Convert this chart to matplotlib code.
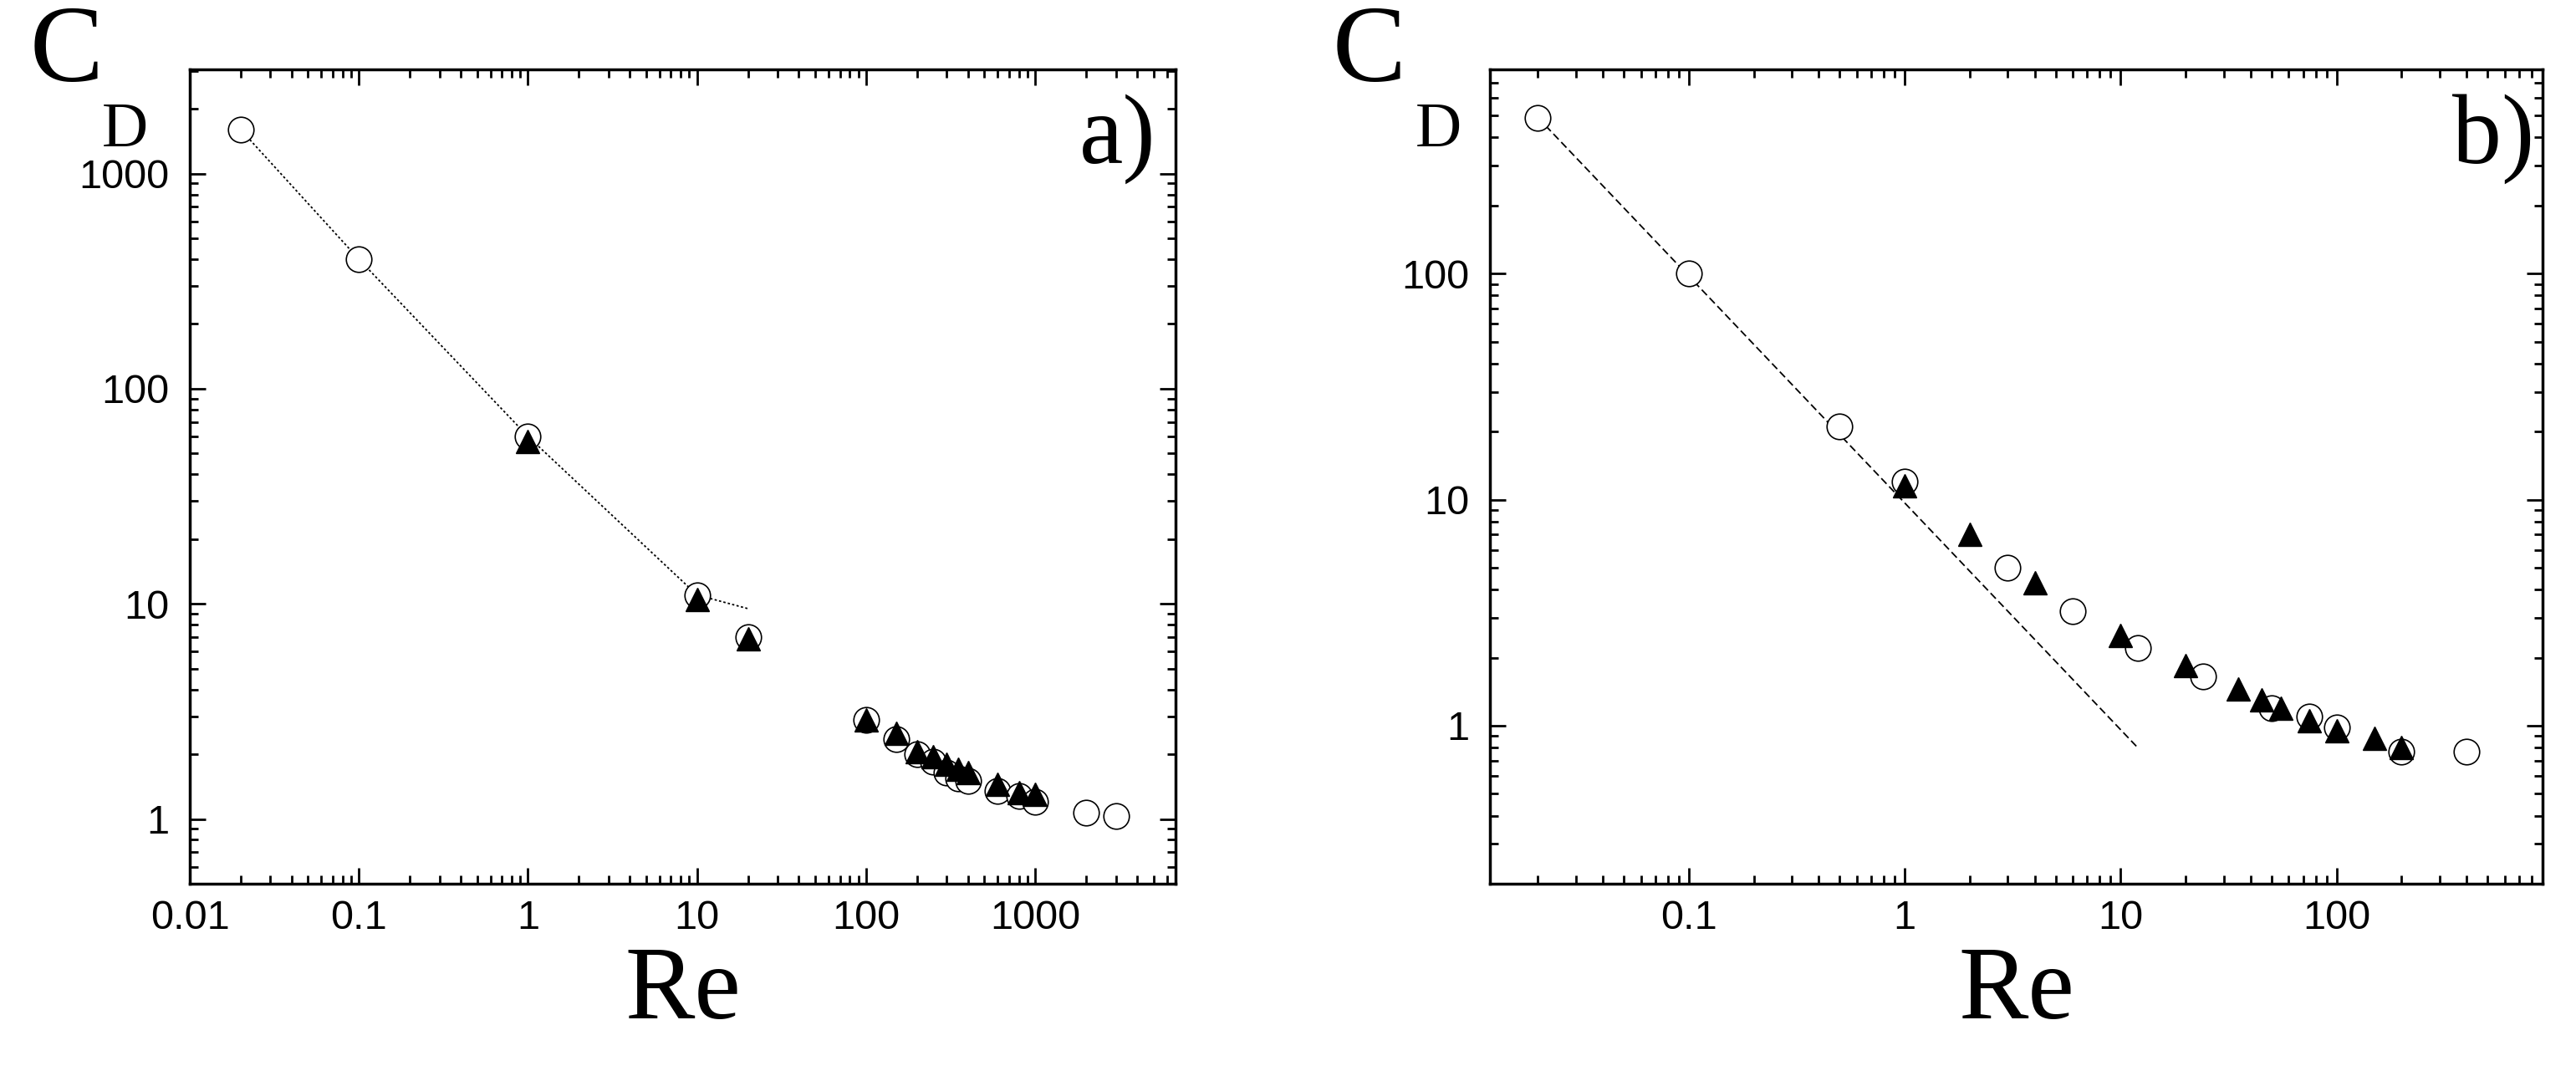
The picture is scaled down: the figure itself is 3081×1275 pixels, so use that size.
import matplotlib.pyplot as plt
from matplotlib.ticker import LogLocator, FixedLocator, NullFormatter, FixedFormatter

# panel a
a_re_circ = [0.02, 0.1, 1, 10, 20, 100, 150, 200, 250, 300, 350, 400, 600, 800, 1000, 2000, 3000]
a_cd_circ = [1600, 400, 60, 11, 7, 2.9, 2.35, 2.0, 1.85, 1.65, 1.55, 1.5, 1.35, 1.28, 1.2, 1.07, 1.03]
a_re_tri = [1, 10, 20, 100, 150, 200, 250, 300, 350, 400, 600, 800, 1000]
a_cd_tri = [57, 10.5, 6.9, 2.9, 2.5, 2.05, 1.95, 1.8, 1.7, 1.65, 1.45, 1.33, 1.3]
a_re_line = [0.02, 0.1, 1, 10, 20]
a_cd_line = [1600, 400, 60, 11, 9.5]

# panel b
b_re_circ = [0.02, 0.1, 0.5, 1, 3, 6, 12, 24, 50, 75, 100, 200, 400]
b_cd_circ = [490, 100, 21, 12, 5, 3.2, 2.2, 1.65, 1.2, 1.1, 0.98, 0.77, 0.77]
b_re_tri = [1, 2, 4, 10, 20, 35, 45, 55, 75, 100, 150, 200]
b_cd_tri = [11.5, 7, 4.3, 2.5, 1.85, 1.45, 1.3, 1.2, 1.05, 0.95, 0.88, 0.8]
b_re_line = [0.02, 12]
b_cd_line = [490, 0.8]

fig = plt.figure(figsize=(30.81, 12.75), dpi=100)
serif = 'Liberation Serif'

def setup(ax, xlim, ylim, xt, yt, label, cx, dx, lx):
    ax.set_xscale('log'); ax.set_yscale('log')
    ax.set_xlim(*xlim); ax.set_ylim(*ylim)
    ax.xaxis.set_major_locator(FixedLocator(xt))
    ax.xaxis.set_major_formatter(FixedFormatter([('%g' % v) for v in xt]))
    ax.yaxis.set_major_locator(FixedLocator(yt))
    ax.yaxis.set_major_formatter(FixedFormatter([('%g' % v) for v in yt]))
    for axis in (ax.xaxis, ax.yaxis):
        axis.set_minor_locator(LogLocator(base=10, subs=range(2, 10), numticks=20))
        axis.set_minor_formatter(NullFormatter())
    ax.tick_params(which='both', direction='in', top=True, right=True, width=2)
    ax.tick_params(which='major', length=14)
    ax.tick_params(which='minor', length=7)
    ax.tick_params(axis='x', pad=14)
    ax.tick_params(axis='y', pad=18)
    for l in ax.get_xticklabels() + ax.get_yticklabels():
        l.set_fontfamily('Liberation Sans'); l.set_fontsize(35)
        l.set_fontstretch('condensed')
    for s in ax.spines.values():
        s.set_linewidth(2.5)
    ax.text(cx, 1.018, 'C', transform=ax.transAxes, fontfamily=serif, fontsize=95, ha='left', va='center')
    ax.text(dx, 0.925, 'D', transform=ax.transAxes, fontfamily=serif, fontsize=55, ha='left', va='center')
    ax.text(0.5, -0.135, 'Re', transform=ax.transAxes, fontfamily=serif, fontsize=90, ha='center', va='center')
    ax.text(lx, 0.915, label, transform=ax.transAxes, fontfamily=serif, fontsize=85, ha='right', va='center')

ax1 = fig.add_axes([227/3081, 1 - 1057/1275, 1179/3081, 974/1275])
ax1.plot(a_re_line, a_cd_line, color='black', linestyle=(0, (1.5, 1.5)), linewidth=1.3)
ax1.plot(a_re_circ, a_cd_circ, 'o', mfc='white', mec='black', ms=22, mew=1.2, linestyle='none')
ax1.plot(a_re_tri, a_cd_tri, '^', color='black', ms=20, linestyle='none')
setup(ax1, (0.01, 6760), (0.5, 3050), [0.01, 0.1, 1, 10, 100, 1000], [1, 10, 100, 1000], 'a)',
      -0.162, -0.089, 0.98)

ax2 = fig.add_axes([1782/3081, 1 - 1057/1275, 1259/3081, 974/1275])
ax2.plot(b_re_line, b_cd_line, color='black', linestyle=(0, (5, 2.5)), linewidth=1.3)
ax2.plot(b_re_circ, b_cd_circ, 'o', mfc='white', mec='black', ms=22, mew=1.2, linestyle='none')
ax2.plot(b_re_tri, b_cd_tri, '^', color='black', ms=20, linestyle='none')
setup(ax2, (0.012, 900), (0.2, 800), [0.1, 1, 10, 100], [1, 10, 100], 'b)',
      -0.15, -0.071, 0.992)

fig.savefig('out.png', dpi=100)
